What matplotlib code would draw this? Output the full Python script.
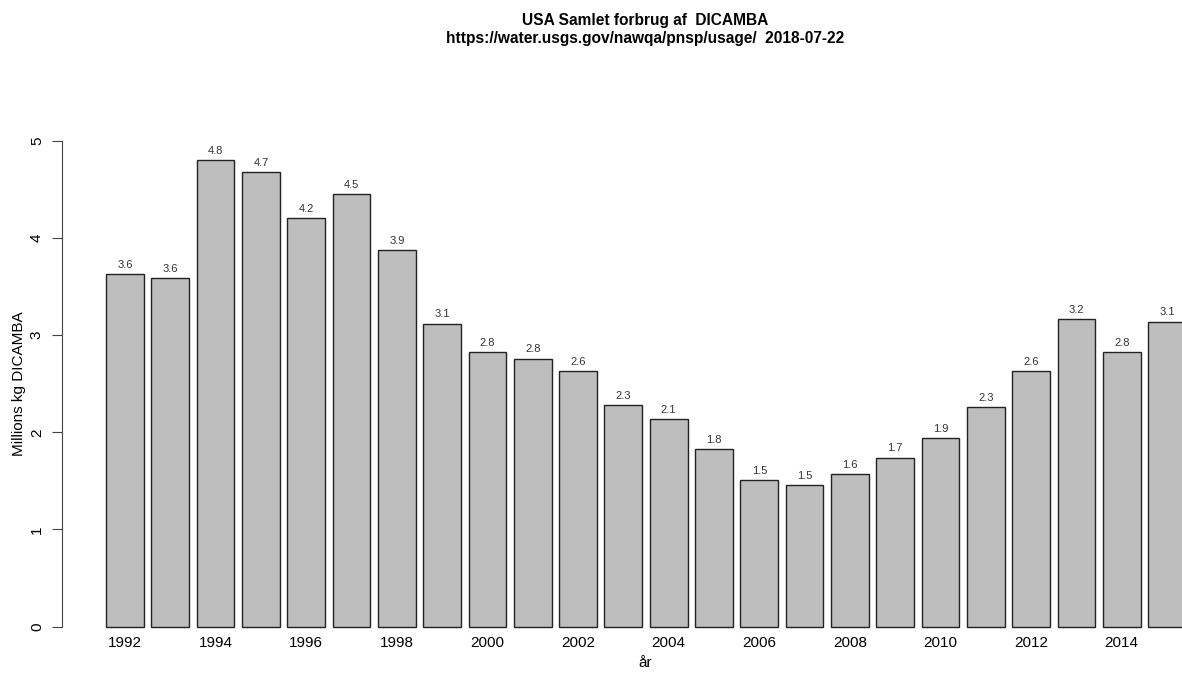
import matplotlib
matplotlib.use("Agg")
import matplotlib.pyplot as plt

plt.rcParams['font.family'] = ['Liberation Sans', 'DejaVu Sans']

# data
years = list(range(1992, 2016))
usage = [3.63, 3.59, 4.80, 4.68, 4.21, 4.45, 3.88, 3.12, 2.83, 2.76, 2.63, 2.28,
         2.14, 1.83, 1.51, 1.46, 1.57, 1.74, 1.94, 2.26, 2.63, 3.17, 2.83, 3.14]
label_years = years[::2]

fig = plt.figure(figsize=(11.82, 6.75), dpi=100)
ax = fig.add_axes([62 / 1182, 29 / 675, 1 - 62 / 1182, (646 - 121.6) / 675])

bars = ax.bar(years, usage, width=1 / 1.2, color='#BEBEBE', edgecolor='#222222', linewidth=1.0)
for x, v in zip(years, usage):
    ax.annotate(f"{v:.1f}", (x, v), xytext=(0, 3), textcoords='offset points',
                ha='center', va='bottom', fontsize=8, color='#333333')

ax.set_xlim(1990.61, 2015.33)
ax.set_ylim(-0.2, 5.2)
ax.set_yticks([0, 1, 2, 3, 4, 5])
ax.set_yticklabels(['0', '1', '2', '3', '4', '5'], rotation=90, va='center', fontsize=11)
ax.set_xticks(label_years)
ax.set_xticklabels([str(y) for y in label_years], fontsize=11)
ax.tick_params(axis='x', length=0, pad=-7)
ax.tick_params(axis='y', length=7, width=0.8, color='#444444', pad=6)

for s in ['top', 'right', 'bottom']:
    ax.spines[s].set_visible(False)
ax.spines['left'].set_bounds(0, 5)
ax.spines['left'].set_color('#444444')

ax.set_ylabel('Millions kg DICAMBA', fontsize=11)
ax.yaxis.set_label_coords(-(62 - 26) / (1182 - 62), 0.5)
fig.text(645 / 1182, 1 - 663 / 675, 'år', ha='center', va='center', fontsize=11)

fig.text(645 / 1182, 1 - 21 / 675, 'USA Samlet forbrug af  DICAMBA', ha='center', va='center',
         fontsize=11.2, fontweight='bold')
fig.text(645 / 1182, 1 - 38 / 675, 'https://water.usgs.gov/nawqa/pnsp/usage/  2018-07-22',
         ha='center', va='center', fontsize=11.2, fontweight='bold')

fig.savefig('out.png', dpi=100)
